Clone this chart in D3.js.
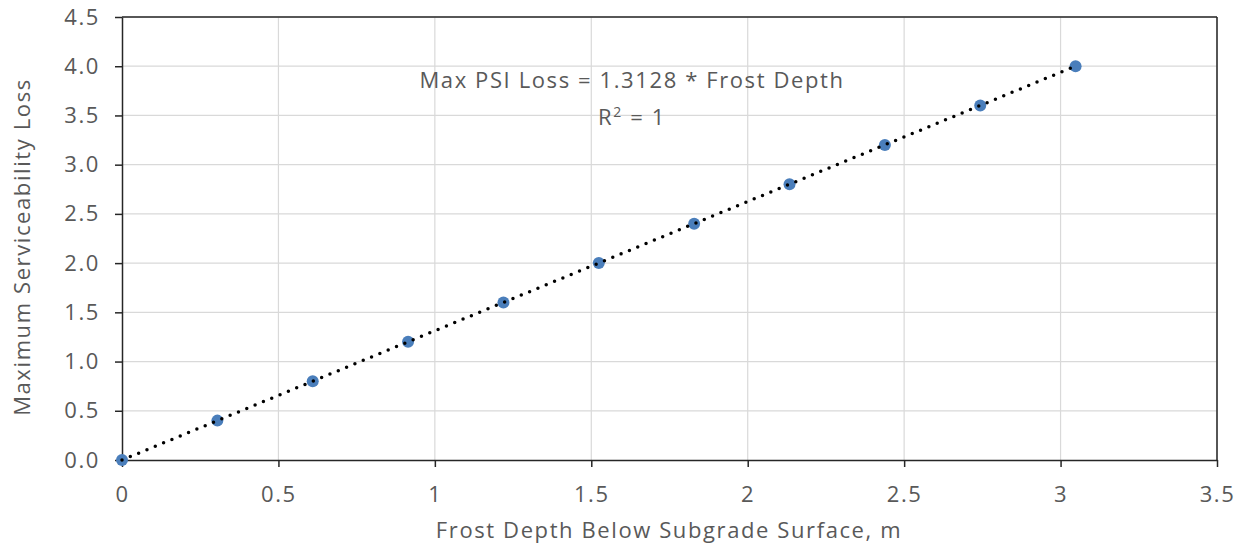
<html>
<head>
<style>
  body { margin: 0; background: #fff; }
  text { font-family: "Open Sans", sans-serif; fill: #595959; }
</style>
</head>
<body>
<script src="https://cdnjs.cloudflare.com/ajax/libs/d3/7.8.5/d3.min.js"></script>
<div id="chart"></div>
<script>
// frost depth (m) and max serviceability loss
var depth = [0, 0.3048, 0.6096, 0.9144, 1.2192, 1.524, 1.8288, 2.1336, 2.4384, 2.7432, 3.048];
var psiLoss = [0, 0.4, 0.8, 1.2, 1.6, 2.0, 2.4, 2.8, 3.2, 3.6, 4.0];
var xTicks = [0, 0.5, 1, 1.5, 2, 2.5, 3, 3.5];
var yTicks = [0, 0.5, 1, 1.5, 2, 2.5, 3, 3.5, 4, 4.5];
var slope = 1.3128;

var W = 1245, H = 550;
var margin = { top: 17, right: 28, bottom: 90, left: 122 },
    width = W - margin.left - margin.right,
    height = H - margin.top - margin.bottom;

var fs = "22px", ls = "1.6px";

var svg = d3.select("#chart").append("svg")
    .attr("width", W).attr("height", H);
var g = svg.append("g")
    .attr("transform", "translate(" + margin.left + "," + margin.top + ")");

var x = d3.scaleLinear().domain([0, 3.5]).range([0, width]);
var y = d3.scaleLinear().domain([0, 4.5]).range([height, 0]);

// gridlines
g.selectAll(".hgrid").data(yTicks.slice(1)).enter().append("line")
    .attr("x1", 0).attr("x2", width)
    .attr("y1", function (d) { return y(d); }).attr("y2", function (d) { return y(d); })
    .attr("stroke", "#d9d9d9").attr("stroke-width", 1.2);
g.selectAll(".vgrid").data(xTicks.slice(1)).enter().append("line")
    .attr("y1", 0).attr("y2", height)
    .attr("x1", function (d) { return x(d); }).attr("x2", function (d) { return x(d); })
    .attr("stroke", "#d9d9d9").attr("stroke-width", 1.2);

// frame top / right
g.append("line").attr("x1", 0).attr("x2", width).attr("y1", 0).attr("y2", 0)
    .attr("stroke", "#262626").attr("stroke-width", 1.5);
g.append("line").attr("x1", width).attr("x2", width).attr("y1", 0).attr("y2", height)
    .attr("stroke", "#262626").attr("stroke-width", 1.5);

// axes
var xAxis = g.append("g")
    .attr("transform", "translate(0," + height + ")")
    .call(d3.axisBottom(x).tickValues(xTicks).tickSize(7).tickSizeOuter(0)
        .tickFormat(function (d) { return String(d); }));
var yAxis = g.append("g")
    .call(d3.axisLeft(y).tickValues(yTicks).tickSize(7).tickSizeOuter(0)
        .tickFormat(d3.format(".1f")));
[xAxis, yAxis].forEach(function (a) {
    a.select(".domain").attr("stroke", "#262626").attr("stroke-width", 1.5);
    a.selectAll(".tick line").attr("stroke", "#262626").attr("stroke-width", 1.5);
    a.selectAll("text").style("font-size", fs).style("letter-spacing", ls)
        .attr("fill", "#595959").style("font-family", "'Open Sans', sans-serif");
});
xAxis.selectAll("text").attr("y", 26).attr("dy", "0.71em");
yAxis.selectAll("text").attr("x", -22);

// points
g.selectAll(".pt").data(depth).enter().append("circle")
    .attr("cx", function (d) { return x(d); })
    .attr("cy", function (d, i) { return y(psiLoss[i]); })
    .attr("r", 6)
    .attr("fill", "#4a7ebb");

// trendline
var x0 = 0, x1 = depth[depth.length - 1];
g.append("line")
    .attr("x1", x(x0)).attr("y1", y(slope * x0))
    .attr("x2", x(x1)).attr("y2", y(slope * x1))
    .attr("stroke", "#000").attr("stroke-width", 3.5)
    .attr("stroke-linecap", "round")
    .attr("stroke-dasharray", "0 9");

// equation label
svg.append("text").attr("x", 632).attr("y", 88).attr("text-anchor", "middle")
    .style("font-size", fs).style("letter-spacing", ls)
    .text("Max PSI Loss = 1.3128 * Frost Depth");
var r2 = svg.append("text").attr("x", 632).attr("y", 125).attr("text-anchor", "middle")
    .style("font-size", fs).style("letter-spacing", ls);
r2.append("tspan").text("R");
r2.append("tspan").attr("dy", -8).style("font-size", "14px").text("2");
r2.append("tspan").attr("dy", 8).text(" = 1");

// axis titles
svg.append("text").attr("x", 669).attr("y", 538).attr("text-anchor", "middle")
    .style("font-size", fs).style("letter-spacing", ls)
    .text("Frost Depth Below Subgrade Surface, m");
svg.append("text")
    .attr("transform", "translate(30,247) rotate(-90)")
    .attr("text-anchor", "middle")
    .style("font-size", fs).style("letter-spacing", ls)
    .text("Maximum Serviceability Loss");
</script>
</body>
</html>
